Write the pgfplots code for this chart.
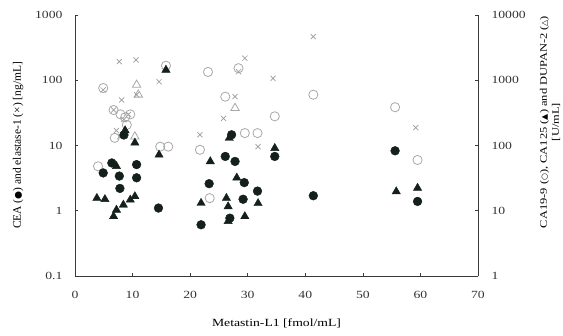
\documentclass[border=0pt]{standalone}
\usepackage{fontspec}
\setmainfont{Liberation Serif}[FakeStretch=1.25]
\newfontfamily\plainserif{Liberation Serif}
\newfontfamily\wideserif{Liberation Serif}[FakeStretch=1.25]
\newfontfamily\symfont{DejaVu Sans}
\usepackage{pgfplots}
\pgfplotsset{compat=1.18}
\definecolor{ink}{HTML}{14201A}
\definecolor{lgray}{HTML}{A8A8A8}
\definecolor{xgray}{HTML}{9C9C9C}
\definecolor{axc}{HTML}{3A3A3A}

% Left axis data
\pgfplotstableread{
x y
4.9 3.8
6.4 5.4
7.7 3.4
7.8 2.2
8.5 14.5
10.7 5.1
10.7 3.2
14.5 1.1
21.9 0.61
23.3 2.6
26.1 6.8
27.8 5.7
29.2 1.5
31.7 2.0
29.4 2.7
26.9 0.77
34.7 6.8
41.4 1.7
27.2 14.6
55.6 8.3
59.5 1.39
}\cea
\pgfplotstableread{
x y
7.7 193
10.6 205
14.6 95
7.8 13.7
8.1 50
6.7 35
21.7 14.6
4.9 71
10.7 60
8.5 25
7.2 17
9.3 30
29.5 218
34.4 107
28.4 135
27.8 56
25.8 26
31.8 9.6
41.4 466
59.2 18.8
}\elastase
% Right axis data
\pgfplotstableread{
x y
4.0 48
15.8 1670
14.8 96
16.2 96
23.1 1340
21.7 86
28.4 1530
26.1 560
34.7 280
29.5 155
31.7 155
23.4 15.6
41.4 600
55.6 386
59.5 60
6.7 350
7.9 300
8.7 270
9.6 300
6.9 131
9.0 207
4.9 760
}\caNineteen
\pgfplotstableread{
x y
15.8 1440
10.4 110
14.6 72
3.8 15.6
5.2 15
6.7 8.2
7.2 10.3
8.4 12.3
9.6 14.7
10.4 16.6
7.2 48
8.7 170
21.9 13.1
23.5 57
26.3 15.6
28.1 32
26.6 11.6
26.6 6.9
29.5 8.2
31.8 13
34.7 91
26.8 130
55.8 19.7
59.5 22.3
}\caOneTwoFive
\pgfplotstableread{
x y
10.4 137
11.0 600
27.8 375
10.7 850
}\dupan

\begin{document}
\begin{tikzpicture}
\pgfplotsset{
  every axis/.append style={
    scale only axis, width=403bp, height=261bp,
    at={(0,0)}, anchor=south west,
    xmin=0, xmax=70,
    axis line style={-, draw=axc, line width=0.7pt},
    tick style={draw=axc, line width=0.6pt},
    major tick length=3bp,
    tick align=inside,
    tick label style={font=\fontsize{11}{12}\selectfont, text=black!80},
    /pgf/number format/assume math mode=true,
  }
}
\begin{axis}[
  ymode=log, ymin=1, ymax=10000,
  axis x line=none, axis y line*=right,
  ytick={1,10,100,1000,10000},
  yticklabels={1,10,100,1000,10000},
  yminorticks=false,
  ytick pos=right,
  yticklabel style={xshift=10bp},
  ylabel={\fontsize{10}{14}\wideserif CA19-9 ({\symfont\scalebox{0.8}{○}}), CA125 ({\symfont\scalebox{0.8}{▲}}) and DUPAN-2 ({\symfont\scalebox{0.8}{△}})\\{}[U/mL]},
  ylabel style={at={(axis description cs:1.1787,0.59)}, anchor=center, rotate=0, align=center},
]
\addplot[only marks, mark=o, mark size=4.6bp, color=lgray, line width=0.8pt] table {\caNineteen};
\addplot[only marks, mark=triangle, mark size=4.8bp, color=lgray, line width=0.8pt] table {\dupan};
\addplot[only marks, mark=triangle*, mark size=4.8bp, color=ink, fill=ink] table {\caOneTwoFive};
\end{axis}
\begin{axis}[
  ymode=log, ymin=0.1, ymax=1000,
  axis x line*=bottom, axis y line*=left,
  xtick={0,10,...,70},
  ytick={0.1,1,10,100,1000},
  yticklabels={0.1,1,10,100,1000},
  yminorticks=false,
  ytick pos=left, xtick pos=bottom,
  yticklabel style={xshift=-9bp},
  xticklabel style={yshift=-12bp},
  xlabel={Metastin-L1 [fmol/mL]},
  xlabel style={at={(axis description cs:0.5,-0.180)}, anchor=center, font=\fontsize{11}{12}\selectfont},
  ylabel={\fontsize{11.5}{13}\plainserif CEA ({\symfont\scalebox{0.8}{●}}) and elastase-1 (×) [ng/mL]},
  ylabel style={at={(axis description cs:-0.1414,0.5)}, anchor=center},
]
\addplot[only marks, mark=x, mark size=3.6bp, color=xgray, line width=0.7pt] table {\elastase};
\addplot[only marks, mark=*, mark size=4.4bp, color=ink, fill=ink] table {\cea};
\end{axis}
\pgfresetboundingbox
\path (-75bp,-60bp) rectangle (488bp,276bp);
\end{tikzpicture}
\end{document}
